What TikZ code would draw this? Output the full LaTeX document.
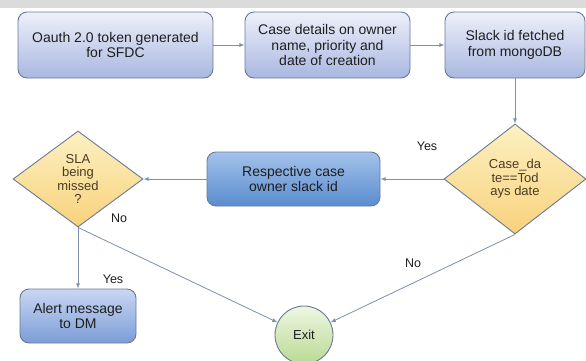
\documentclass[tikz,border=0pt]{standalone}
\usepackage{fontspec}
\setmainfont{Liberation Sans}
\usetikzlibrary{shapes.geometric}

\definecolor{edgeline}{HTML}{7D8FAE}
\definecolor{boxline}{HTML}{687A98}
\definecolor{boxtop}{HTML}{EEF0FA}
\definecolor{boxbot}{HTML}{A9B7E0}
\definecolor{darktop}{HTML}{A3C2EA}
\definecolor{darkbot}{HTML}{5A8CCF}
\definecolor{alerttop}{HTML}{C9D7F2}
\definecolor{alertbot}{HTML}{7C9DD8}
\definecolor{dmdtop}{HTML}{FDF0C2}
\definecolor{dmdbot}{HTML}{F8D27C}
\definecolor{exittop}{HTML}{EEF6E2}
\definecolor{exitbot}{HTML}{B9DA92}
\definecolor{txt}{HTML}{1E1E1E}
\definecolor{dmdtxt}{HTML}{4A3B22}

\begin{document}
\begin{tikzpicture}[x=1pt,y=-1pt,>=latex,
  flowbox/.style={draw=boxline,line width=0.9pt,rounded corners=9pt,
    top color=boxtop,bottom color=boxbot,align=center,text=txt,
    font=\fontsize{14}{15.5}\selectfont,inner sep=2pt},
  darkbox/.style={flowbox,top color=darktop,bottom color=darkbot},
  decision/.style={diamond,draw=boxline,line width=0.9pt,
    top color=dmdtop,bottom color=dmdbot,align=center,text=dmdtxt,
    font=\fontsize{13}{13.5}\selectfont,inner sep=0pt,aspect=1.3},
  endnode/.style={circle,draw=boxline,line width=0.9pt,
    top color=exittop,bottom color=exitbot,text=txt,
    font=\fontsize{13}{14}\selectfont,minimum size=58pt,inner sep=0pt},
  flow/.style={->,draw=edgeline,line width=0.8pt},
  lbl/.style={text=txt,font=\fontsize{12.5}{14}\selectfont}]

\useasboundingbox (0,0) rectangle (586,360);
\fill[gray!28] (0,0) rectangle (586,8);

% top row
\node[flowbox,minimum width=195pt,minimum height=66pt] (oauth) at (115.5,45)
  {Oauth 2.0 token generated\\for SFDC};
\node[flowbox,minimum width=165pt,minimum height=66pt] (details) at (327.5,45)
  {Case details on owner\\name, priority and\\date of creation};
\node[flowbox,minimum width=140pt,minimum height=66pt] (slack) at (515,45)
  {Slack id fetched\\from mongoDB};

% middle row
\node[decision,minimum width=142pt,minimum height=110pt] (casedate) at (515,179)
  {Case\_da\\te==Tod\\ays date};
\node[darkbox,minimum width=173pt,minimum height=54pt] (owner) at (293.5,179)
  {Respective case\\owner slack id};
\node[decision,minimum width=130pt,minimum height=96pt] (sla) at (78,179)
  {SLA\\being\\missed\\?};

% bottom row
\node[darkbox,minimum width=116pt,minimum height=54pt,top color=alerttop,bottom color=alertbot] (alert) at (78,316)
  {Alert message\\to DM};
\node[endnode] (exit) at (304,335) {Exit};

\draw[flow] (oauth) -- (details);
\draw[flow] (details) -- (slack);
\draw[flow] (slack) -- (casedate);
\draw[flow] (casedate) -- (owner);
\draw[flow] (owner) -- (sla);
\draw[flow] (sla.south) -- (alert.north);
\draw[flow] (sla.south) -- (exit);
\draw[flow] (casedate.south) -- (exit);

\node[lbl] (yesa) at (427,146) {Yes};
\node[lbl] (noa) at (119,218) {No};
\node[lbl] (yesb) at (113,279) {Yes};
\node[lbl] (nob) at (413,263) {No};

\end{tikzpicture}
\end{document}
